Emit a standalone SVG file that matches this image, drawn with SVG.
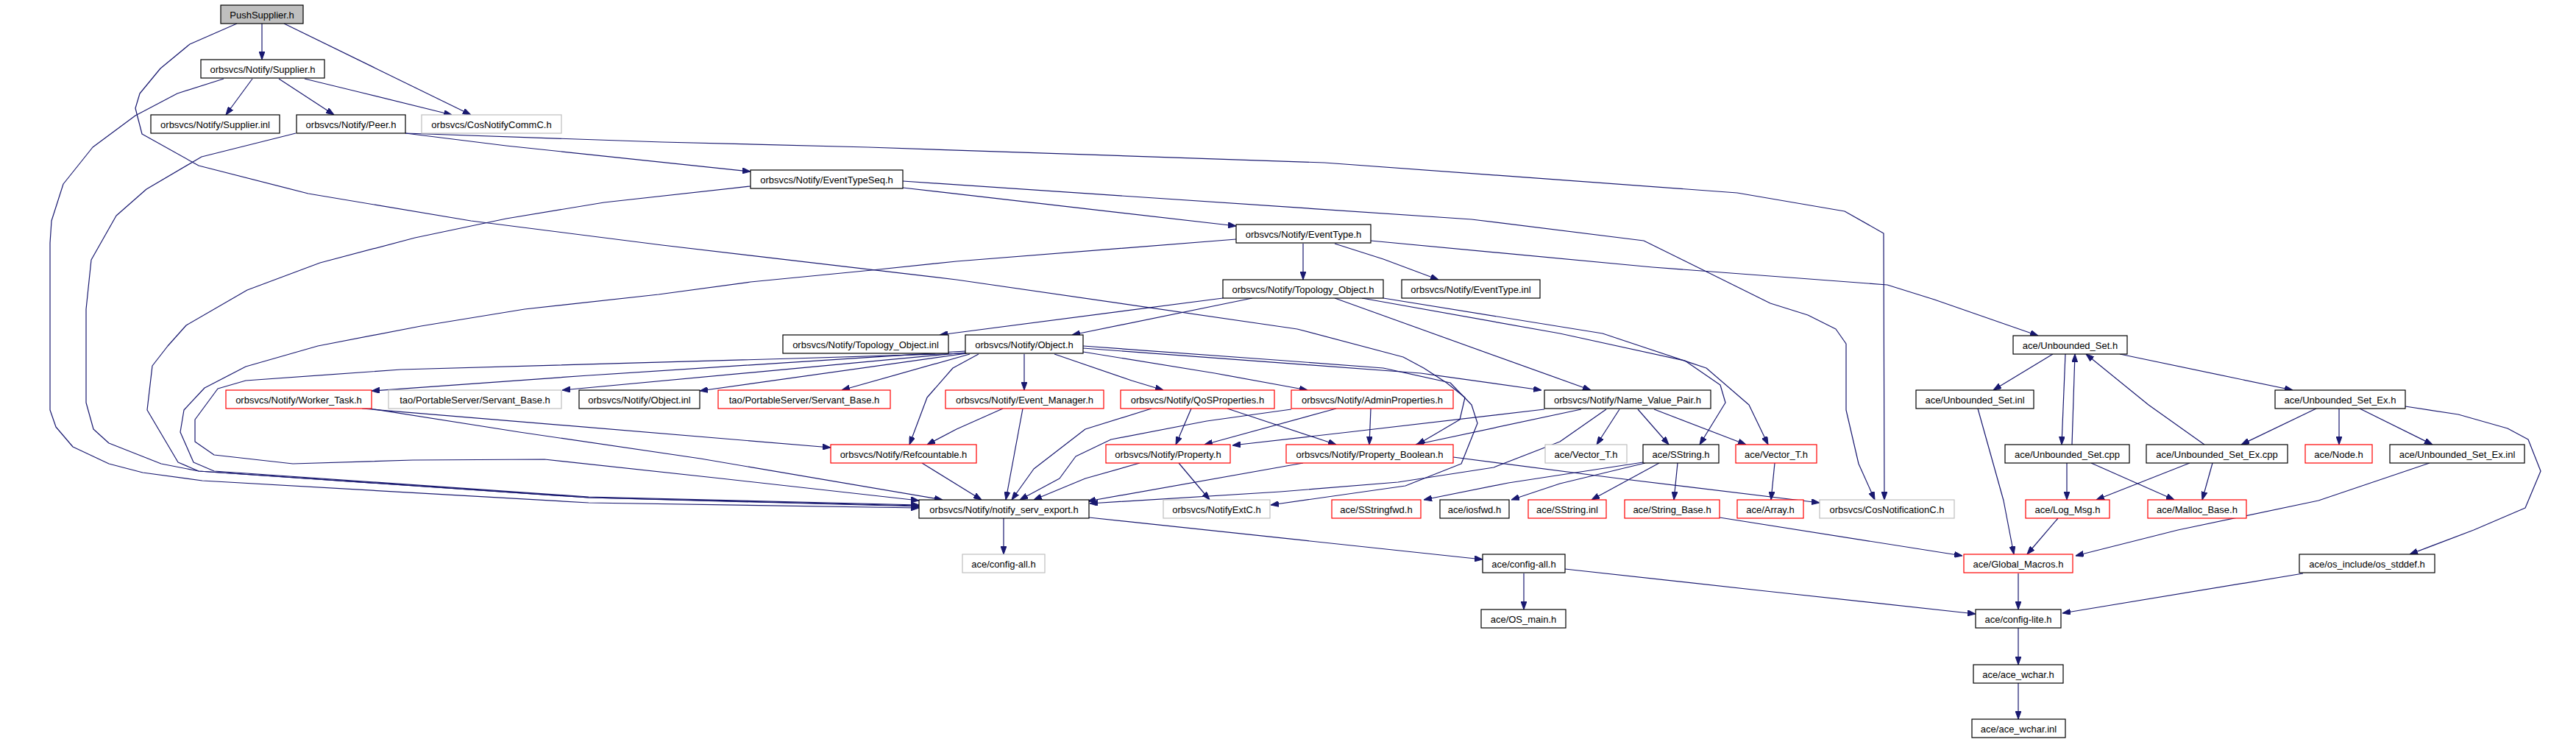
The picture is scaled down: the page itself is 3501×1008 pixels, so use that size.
<svg xmlns="http://www.w3.org/2000/svg" width="3501" height="1008" viewBox="0 0 3501 1008">
<style>
rect{fill:#fff;stroke:#000;stroke-width:1.2}
.r rect{stroke:#ff0000}
.g rect{stroke:#bfbfbf}
.root rect{fill:#bfbfbf}
text{font-family:"Liberation Sans",Arial,sans-serif;font-size:13px;text-anchor:middle;fill:#000}
#edges path{fill:none;stroke:#191970;stroke-width:1.2;stroke-linejoin:round;marker-end:url(#ah)}
</style>
<defs>
<marker id="ah" markerUnits="userSpaceOnUse" markerWidth="11" markerHeight="8" refX="11" refY="4" orient="auto">
<path d="M0,0 L11,4 L0,8 z" fill="#191970" stroke="#191970" stroke-width="1"/>
</marker>
</defs>
<rect x="0" y="0" width="3501" height="1008" style="fill:#fff;stroke:none"/>
<g id="edges">
<path d="M356,32 L356,81"/>
<path d="M386,32 L640,156"/>
<path d="M322,32 L258,60 L218,93 L190,127 L184,147 L193,182 L270,225 L419,263 L640,300 L900,333 L1300,380 L1763,447 L1907,485 L1935,500 L1966,520 L1991,540 L1984,570 L1950,590 L1926,604"/>
<path d="M343,107 L307,156"/>
<path d="M379,107 L454,156"/>
<path d="M414,107 L488,125 L614,156"/>
<path d="M304,107 L241,127 L184,157 L126,200 L86,250 L70,300 L68,330 L68,557 L76,580 L99,607 L148,630 L194,642 L275,653 L800,683 L1249,690"/>
<path d="M402,181 L274,213 L199,257 L158,293 L124,353 L117,420 L117,547 L127,583 L148,602 L219,630 L270,640 L800,676 L1249,688"/>
<path d="M551,181 L688,198 L1020,233"/>
<path d="M551,181 L900,193 L1180,200 L1800,221 L2361,262 L2507,287 L2560,317 L2561,679"/>
<path d="M1227,255 L1680,307"/>
<path d="M1227,246 L2000,298 L2234,327 L2406,412 L2457,428 L2495,447 L2509,467 L2509,557 L2526,630 L2548,679"/>
<path d="M1020,253 L821,275 L688,297 L564,323 L435,357 L336,394 L253,442 L228,470 L207,497 L200,557 L242,628 L270,640 L800,676 L1249,687"/>
<path d="M1771,331 L1771,380"/>
<path d="M1814,331 L1880,352 L1955,380"/>
<path d="M1863,327 L2246,363 L2565,387 L2629,407 L2770,456"/>
<path d="M1680,325 L1300,355 L1185,367 L1020,383 L895,400 L713,420 L572,443 L432,470 L334,498 L278,527 L250,557 L245,587 L263,628 L291,640 L800,675 L1249,686"/>
<path d="M1662,405 L1277,455"/>
<path d="M1702,405 L1457,455"/>
<path d="M1814,405 L2162,530"/>
<path d="M1851,405 L2120,453 L2290,490 L2338,523 L2345,547 L2310,604"/>
<path d="M1880,405 L2178,453 L2319,500 L2377,550 L2403,604"/>
<path d="M1312,477 L800,510 L505,531"/>
<path d="M1312,479 L764,530"/>
<path d="M1314,480 L951,531"/>
<path d="M1318,481 L1144,530"/>
<path d="M1330,481 L1295,500 L1260,540 L1236,604"/>
<path d="M1392,481 L1392,530"/>
<path d="M1433,481 L1538,517 L1581,530"/>
<path d="M1472,478 L1651,507 L1777,530"/>
<path d="M1472,473 L1931,507 L2095,530"/>
<path d="M1472,470 L1747,490 L1880,500 L1971,520 L2000,550 L2008,575 L1986,630 L1910,660 L1727,686"/>
<path d="M1312,480 L1078,487 L545,502 L334,517 L296,528 L265,570 L265,600 L291,618 L398,630 L561,625 L740,624 L980,650 L1249,680"/>
<path d="M492,555 L1129,608"/>
<path d="M502,555 L706,587 L952,623 L1281,679"/>
<path d="M1253,629 L1334,679"/>
<path d="M1363,555 L1300,583 L1260,604"/>
<path d="M1390,555 L1367,679"/>
<path d="M1565,555 L1475,583 L1405,637 L1375,679"/>
<path d="M1619,555 L1598,604"/>
<path d="M1668,555 L1816,604"/>
<path d="M1816,555 L1637,604"/>
<path d="M1863,555 L1861,604"/>
<path d="M1755,556 L1640,572 L1510,597 L1462,620 L1440,650 L1386,679"/>
<path d="M1549,629 L1475,650 L1405,679"/>
<path d="M1602,629 L1644,679"/>
<path d="M1771,629 L1478,681"/>
<path d="M1975,621 L2200,650 L2473,683"/>
<path d="M2099,556 L1833,587 L1675,605"/>
<path d="M2149,556 L1924,604"/>
<path d="M2183,556 L2120,600 L2030,635 L1900,655 L1740,668 L1481,684"/>
<path d="M2201,556 L2170,604"/>
<path d="M2226,556 L2268,604"/>
<path d="M2248,556 L2373,604"/>
<path d="M2233,628 L2050,656 L1935,679"/>
<path d="M2236,629 L2120,657 L2054,679"/>
<path d="M2255,629 L2163,679"/>
<path d="M2280,629 L2275,679"/>
<path d="M2412,629 L2407,679"/>
<path d="M2337,703 L2667,755"/>
<path d="M1364,704 L1364,753"/>
<path d="M1480,703 L2015,760"/>
<path d="M2071,779 L2071,828"/>
<path d="M2127,773 L2400,803 L2685,834"/>
<path d="M2743,779 L2743,828"/>
<path d="M3130,779 L2803,833"/>
<path d="M2743,853 L2743,903"/>
<path d="M2743,928 L2743,977"/>
<path d="M2790,481 L2709,530"/>
<path d="M2807,481 L2802,604"/>
<path d="M2816,604 L2820,481"/>
<path d="M2996,604 L2920,550 L2835,481"/>
<path d="M2881,481 L3116,530"/>
<path d="M3148,555 L3046,604"/>
<path d="M3179,555 L3179,604"/>
<path d="M3207,555 L3306,604"/>
<path d="M3269,552 L3341,563 L3408,582 L3436,597 L3453,640 L3432,690 L3362,720 L3275,753"/>
<path d="M2688,555 L2723,680 L2737,753"/>
<path d="M2809,629 L2809,679"/>
<path d="M2842,629 L2955,679"/>
<path d="M2976,629 L2849,679"/>
<path d="M3007,629 L2993,679"/>
<path d="M2797,704 L2755,753"/>
<path d="M3302,629 L3151,680 L2960,720 L2821,755"/>
</g>
<g id="n_push" class="root"><rect x="300" y="7" width="112" height="25"/><text x="356" y="24.5">PushSupplier.h</text></g>
<g id="n_supplier"><rect x="273" y="81" width="168" height="25"/><text x="357" y="98.5">orbsvcs/Notify/Supplier.h</text></g>
<g id="n_supplier_inl"><rect x="205" y="156" width="175" height="25"/><text x="292.5" y="173.5">orbsvcs/Notify/Supplier.inl</text></g>
<g id="n_peer"><rect x="403" y="156" width="148" height="25"/><text x="477" y="173.5">orbsvcs/Notify/Peer.h</text></g>
<g id="n_cosnotifycomm" class="g"><rect x="573" y="156" width="190" height="25"/><text x="668" y="173.5">orbsvcs/CosNotifyCommC.h</text></g>
<g id="n_eventtypeseq"><rect x="1020" y="231" width="207" height="25"/><text x="1123.5" y="248.5">orbsvcs/Notify/EventTypeSeq.h</text></g>
<g id="n_eventtype"><rect x="1680" y="305" width="183" height="25"/><text x="1771.5" y="322.5">orbsvcs/Notify/EventType.h</text></g>
<g id="n_topology"><rect x="1662" y="380" width="218" height="25"/><text x="1771" y="397.5">orbsvcs/Notify/Topology_Object.h</text></g>
<g id="n_eventtype_inl"><rect x="1905" y="380" width="188" height="25"/><text x="1999" y="397.5">orbsvcs/Notify/EventType.inl</text></g>
<g id="n_topology_inl"><rect x="1064" y="455" width="225" height="25"/><text x="1176.5" y="472.5">orbsvcs/Notify/Topology_Object.inl</text></g>
<g id="n_object"><rect x="1312" y="455" width="160" height="25"/><text x="1392" y="472.5">orbsvcs/Notify/Object.h</text></g>
<g id="n_uset"><rect x="2736" y="456" width="155" height="25"/><text x="2813.5" y="473.5">ace/Unbounded_Set.h</text></g>
<g id="n_worker" class="r"><rect x="307" y="530" width="198" height="25"/><text x="406" y="547.5">orbsvcs/Notify/Worker_Task.h</text></g>
<g id="n_servant_g" class="g"><rect x="528" y="530" width="235" height="25"/><text x="645.5" y="547.5">tao/PortableServer/Servant_Base.h</text></g>
<g id="n_object_inl"><rect x="787" y="530" width="164" height="25"/><text x="869" y="547.5">orbsvcs/Notify/Object.inl</text></g>
<g id="n_servant_r" class="r"><rect x="976" y="530" width="234" height="25"/><text x="1093" y="547.5">tao/PortableServer/Servant_Base.h</text></g>
<g id="n_eventmgr" class="r"><rect x="1285" y="530" width="215" height="25"/><text x="1392.5" y="547.5">orbsvcs/Notify/Event_Manager.h</text></g>
<g id="n_qos" class="r"><rect x="1523" y="530" width="209" height="25"/><text x="1627.5" y="547.5">orbsvcs/Notify/QoSProperties.h</text></g>
<g id="n_admin" class="r"><rect x="1755" y="530" width="220" height="25"/><text x="1865" y="547.5">orbsvcs/Notify/AdminProperties.h</text></g>
<g id="n_nvp"><rect x="2099" y="530" width="226" height="25"/><text x="2212" y="547.5">orbsvcs/Notify/Name_Value_Pair.h</text></g>
<g id="n_uset_inl"><rect x="2604" y="530" width="160" height="25"/><text x="2684" y="547.5">ace/Unbounded_Set.inl</text></g>
<g id="n_usetex"><rect x="3092" y="530" width="177" height="25"/><text x="3180.5" y="547.5">ace/Unbounded_Set_Ex.h</text></g>
<g id="n_refcount" class="r"><rect x="1129" y="604" width="198" height="25"/><text x="1228" y="621.5">orbsvcs/Notify/Refcountable.h</text></g>
<g id="n_property" class="r"><rect x="1503" y="604" width="169" height="25"/><text x="1587.5" y="621.5">orbsvcs/Notify/Property.h</text></g>
<g id="n_propbool" class="r"><rect x="1748" y="604" width="227" height="25"/><text x="1861.5" y="621.5">orbsvcs/Notify/Property_Boolean.h</text></g>
<g id="n_vector_g" class="g"><rect x="2100" y="604" width="111" height="25"/><text x="2155.5" y="621.5">ace/Vector_T.h</text></g>
<g id="n_sstring"><rect x="2233" y="604" width="103" height="25"/><text x="2284.5" y="621.5">ace/SString.h</text></g>
<g id="n_vector_r" class="r"><rect x="2359" y="604" width="110" height="25"/><text x="2414" y="621.5">ace/Vector_T.h</text></g>
<g id="n_uset_cpp"><rect x="2725" y="604" width="169" height="25"/><text x="2809.5" y="621.5">ace/Unbounded_Set.cpp</text></g>
<g id="n_usetex_cpp"><rect x="2917" y="604" width="192" height="25"/><text x="3013" y="621.5">ace/Unbounded_Set_Ex.cpp</text></g>
<g id="n_node" class="r"><rect x="3133" y="604" width="91" height="25"/><text x="3178.5" y="621.5">ace/Node.h</text></g>
<g id="n_usetex_inl"><rect x="3248" y="604" width="183" height="25"/><text x="3339.5" y="621.5">ace/Unbounded_Set_Ex.inl</text></g>
<g id="n_export"><rect x="1249" y="679" width="231" height="25"/><text x="1364.5" y="696.5">orbsvcs/Notify/notify_serv_export.h</text></g>
<g id="n_notifyext" class="g"><rect x="1581" y="679" width="145" height="25"/><text x="1653.5" y="696.5">orbsvcs/NotifyExtC.h</text></g>
<g id="n_sstringfwd" class="r"><rect x="1810" y="679" width="121" height="25"/><text x="1870.5" y="696.5">ace/SStringfwd.h</text></g>
<g id="n_iosfwd"><rect x="1957" y="679" width="94" height="25"/><text x="2004" y="696.5">ace/iosfwd.h</text></g>
<g id="n_sstring_inl" class="r"><rect x="2077" y="679" width="106" height="25"/><text x="2130" y="696.5">ace/SString.inl</text></g>
<g id="n_string_base" class="r"><rect x="2208" y="679" width="129" height="25"/><text x="2272.5" y="696.5">ace/String_Base.h</text></g>
<g id="n_array" class="r"><rect x="2361" y="679" width="90" height="25"/><text x="2406" y="696.5">ace/Array.h</text></g>
<g id="n_cosnotification" class="g"><rect x="2473" y="679" width="183" height="25"/><text x="2564.5" y="696.5">orbsvcs/CosNotificationC.h</text></g>
<g id="n_logmsg" class="r"><rect x="2753" y="679" width="114" height="25"/><text x="2810" y="696.5">ace/Log_Msg.h</text></g>
<g id="n_malloc" class="r"><rect x="2919" y="679" width="134" height="25"/><text x="2986" y="696.5">ace/Malloc_Base.h</text></g>
<g id="n_configall_g" class="g"><rect x="1308" y="753" width="112" height="25"/><text x="1364" y="770.5">ace/config-all.h</text></g>
<g id="n_configall"><rect x="2015" y="753" width="112" height="25"/><text x="2071" y="770.5">ace/config-all.h</text></g>
<g id="n_globalmacros" class="r"><rect x="2669" y="753" width="148" height="25"/><text x="2743" y="770.5">ace/Global_Macros.h</text></g>
<g id="n_osstddef"><rect x="3125" y="753" width="184" height="25"/><text x="3217" y="770.5">ace/os_include/os_stddef.h</text></g>
<g id="n_osmain"><rect x="2013" y="828" width="115" height="25"/><text x="2070.5" y="845.5">ace/OS_main.h</text></g>
<g id="n_configlite"><rect x="2685" y="828" width="116" height="25"/><text x="2743" y="845.5">ace/config-lite.h</text></g>
<g id="n_acewchar"><rect x="2682" y="903" width="122" height="25"/><text x="2743" y="920.5">ace/ace_wchar.h</text></g>
<g id="n_acewchar_inl"><rect x="2680" y="977" width="127" height="25"/><text x="2743.5" y="994.5">ace/ace_wchar.inl</text></g>
</svg>
